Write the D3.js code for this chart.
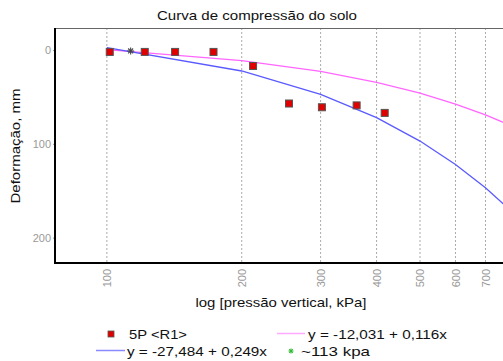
<!DOCTYPE html>
<html><head><meta charset="utf-8">
<script src="https://cdn.jsdelivr.net/npm/d3@7"></script>
<style>body{margin:0;background:#fff}svg{display:block}text{font-family:"Liberation Sans",Arial,sans-serif}</style>
</head><body>
<svg id="c" width="503" height="361"></svg>
<script>
const pressure = [101.5, 121.5, 142, 173, 212, 255, 302, 361, 417];
const deformation = [2, 2, 2, 2, 17, 57, 61, 59, 67];
const markerX = [113];
const markerY = [1];
const lineX = [100, 200, 300, 400, 500, 600, 700, 800];
const pinkY = [-0.43, 11.17, 22.77, 34.37, 45.97, 57.57, 69.17, 80.77];
const blueY = [-2.58, 22.32, 47.22, 72.12, 97.02, 121.92, 146.82, 171.72];
const xTicks = [100, 200, 300, 400, 500, 600, 700];
const yTicks = [0, 100, 200];
const legendLabels = ["5P <R1>", "y = -12,031 + 0,116x", "y = -27,484 + 0,249x", "~113 kpa"];

const svg = d3.select("#c");
const L = 55, T = 28, B = 263, R = 503;
const x = d3.scaleLog().domain([76.6, 766]).range([L, R]);
const y = d3.scaleLinear().domain([-23.5, 227]).range([T, B]);

function fitText(sel, w) { sel.attr("textLength", w).attr("lengthAdjust", "spacingAndGlyphs"); return sel; }

fitText(svg.append("text").attr("x", 257).attr("y", 20).attr("text-anchor", "middle")
  .attr("font-size", 13).attr("fill", "#111").text("Curva de compressão do solo"), 200);

const clip = svg.append("defs").append("clipPath").attr("id", "pc");
clip.append("rect").attr("x", L).attr("y", T).attr("width", R - L).attr("height", B - T);

// grid
svg.append("g").selectAll("line").data(xTicks).join("line")
  .attr("x1", d => x(d)).attr("x2", d => x(d)).attr("y1", T).attr("y2", B)
  .attr("stroke", "#aaa").attr("stroke-dasharray", "2,2").attr("stroke-width", 1);

// top border
svg.append("line").attr("x1", L).attr("x2", R).attr("y1", T + 0.5).attr("y2", T + 0.5)
  .attr("stroke", "#666").attr("stroke-width", 1);

// axes
const yAxis = d3.axisLeft(y).tickValues(yTicks).tickSize(2).tickFormat(d3.format("d"));
const gy = svg.append("g").attr("transform", `translate(${L},0)`).call(yAxis);
gy.select(".domain").remove();
gy.selectAll("line").attr("stroke", "#999");
gy.selectAll("text").attr("fill", "#999").attr("font-size", 11).attr("font-family", "DejaVu Sans").attr("x", -4);

const xAxis = d3.axisBottom(x).tickValues(xTicks).tickSize(0).tickFormat(d3.format("d"));
const gx = svg.append("g").attr("transform", `translate(0,${B})`).call(xAxis);
gx.select(".domain").remove();
gx.selectAll("text").attr("fill", "#999").attr("font-size", 11).attr("font-family", "DejaVu Sans")
  .attr("transform", "rotate(-90)").attr("text-anchor", "end")
  .attr("x", -6).attr("y", 0).attr("dy", "0.35em");

svg.append("line").attr("x1", L).attr("x2", L).attr("y1", T).attr("y2", B + 1)
  .attr("stroke", "#000").attr("stroke-width", 2);
svg.append("line").attr("x1", L).attr("x2", R).attr("y1", B).attr("y2", B)
  .attr("stroke", "#000").attr("stroke-width", 2);

// axis labels
fitText(svg.append("text").attr("x", 281).attr("y", 306.5).attr("text-anchor", "middle")
  .attr("font-size", 13).attr("fill", "#111").text("log [pressão vertical, kPa]"), 171);
fitText(svg.append("text").attr("transform", "translate(20,146) rotate(-90)").attr("text-anchor", "middle")
  .attr("font-size", 13).attr("fill", "#111").text("Deformação, mm"), 115);

// lines
const plot = svg.append("g").attr("clip-path", "url(#pc)");
const lineGen = d3.line().x(d => x(d[0])).y(d => y(d[1]));
plot.append("path").datum(lineX.map((v, i) => [v, pinkY[i]])).attr("d", lineGen)
  .attr("fill", "none").attr("stroke", "#ff66ff").attr("stroke-width", 1.3);
plot.append("path").datum(lineX.map((v, i) => [v, blueY[i]])).attr("d", lineGen)
  .attr("fill", "none").attr("stroke", "#5a5aff").attr("stroke-width", 1.3);

// points
plot.selectAll("rect.pt").data(pressure.map((v, i) => [v, deformation[i]])).join("rect")
  .attr("class", "pt").attr("x", d => x(d[0]) - 3.5).attr("y", d => y(d[1]) - 3.5)
  .attr("width", 7).attr("height", 7).attr("fill", "#e00000").attr("stroke", "#555").attr("stroke-width", 1);

function star(g, cx, cy, r, color) {
  [0, 45, 90, 135].forEach(a => {
    const rad = a * Math.PI / 180;
    g.append("line").attr("x1", cx - r * Math.cos(rad)).attr("y1", cy - r * Math.sin(rad))
      .attr("x2", cx + r * Math.cos(rad)).attr("y2", cy + r * Math.sin(rad))
      .attr("stroke", color).attr("stroke-width", 1.1);
  });
}
markerX.forEach((v, i) => star(plot, x(v), y(markerY[i]), 3.5, "#444"));

// legend
const lg = svg.append("g").attr("font-size", 13).attr("fill", "#111");
lg.append("rect").attr("x", 108).attr("y", 331).attr("width", 6).attr("height", 6)
  .attr("fill", "#e00000").attr("stroke", "#555").attr("stroke-width", 0.8);
fitText(lg.append("text").attr("x", 129).attr("y", 338.5).text(legendLabels[0]), 58);
lg.append("line").attr("x1", 277).attr("x2", 305).attr("y1", 333.5).attr("y2", 333.5)
  .attr("stroke", "#ffaaff").attr("stroke-width", 1.5);
fitText(lg.append("text").attr("x", 308).attr("y", 338.5).text(legendLabels[1]), 139);
lg.append("line").attr("x1", 96).attr("x2", 125).attr("y1", 350.5).attr("y2", 350.5)
  .attr("stroke", "#8888ff").attr("stroke-width", 1.5);
fitText(lg.append("text").attr("x", 127).attr("y", 355.5).text(legendLabels[2]), 140);
star(lg, 291, 351, 2.5, "#33bb33");
fitText(lg.append("text").attr("x", 301).attr("y", 355.5).text(legendLabels[3]), 69);
</script>
</body></html>
